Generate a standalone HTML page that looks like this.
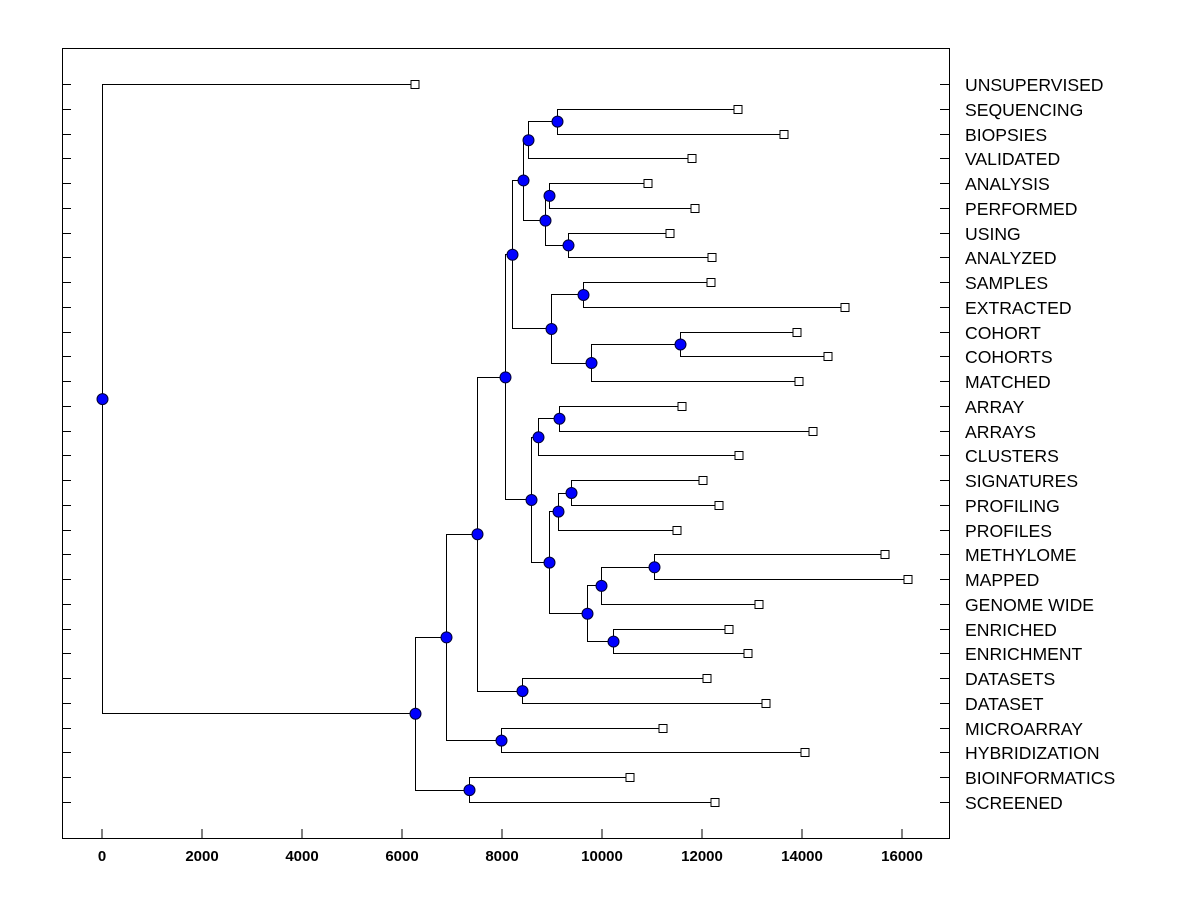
<!DOCTYPE html>
<html><head><meta charset="utf-8"><style>
html,body{margin:0;padding:0;background:#fff;}
svg{display:block;font-family:"Liberation Sans",Arial,sans-serif;}
</style></head><body>
<svg id="chart" width="1200" height="900">
<rect x="62.5" y="48.5" width="887" height="790" fill="none" stroke="#000"/>
</svg>
<script>
const leafNames = ["UNSUPERVISED","SEQUENCING","BIOPSIES","VALIDATED","ANALYSIS","PERFORMED","USING","ANALYZED","SAMPLES","EXTRACTED","COHORT","COHORTS","MATCHED","ARRAY","ARRAYS","CLUSTERS","SIGNATURES","PROFILING","PROFILES","METHYLOME","MAPPED","GENOME WIDE","ENRICHED","ENRICHMENT","DATASETS","DATASET","MICROARRAY","HYBRIDIZATION","BIOINFORMATICS","SCREENED"];
const leafValues = [6260,12720,13640,11800,10920,11860,11360,12200,12180,14860,13900,14520,13940,11600,14220,12740,12020,12340,11500,15660,16120,13140,12540,12920,12100,13280,11220,14060,10560,12260];
const mergeLeft  = ["L1","N0","L4","L6","N2","N1","L8","L10","N7","N6","N5","L13","N11","L16","N13","L19","N15","L22","N16","N14","N12","N10","L24","N21","L26","N23","L28","N25","L0"];
const mergeRight = ["L2","L3","L5","L7","N3","N4","L9","L11","L12","N8","N9","L14","L15","L17","L18","L20","L21","L23","N17","N18","N19","N20","L25","N22","L27","N24","L29","N26","N27"];
const mergeHeight = [9100,8520,8940,9320,8860,8420,9620,11560,9780,8980,8200,9140,8720,9380,9120,11040,9980,10220,9700,8940,8580,8060,8400,7500,7980,6880,7340,6260,0];
const xTicks = [0,2000,4000,6000,8000,10000,12000,14000,16000];

const svg = document.getElementById('chart');
const NS = 'http://www.w3.org/2000/svg';
const xs = v => 102 + v * 0.05;
const ys = i => 84 + i * (802 - 84) / 29;
function mk(tag, attrs){ const e = document.createElementNS(NS, tag); for (const k in attrs) e.setAttribute(k, attrs[k]); svg.appendChild(e); return e; }

xTicks.forEach(t => {
  const l = mk('line', {x1: xs(t), x2: xs(t), y1: 838, y2: 829, stroke: '#000'});
  
  
  const tx = mk('text', {x: xs(t), y: 861, 'font-size': 15, 'font-weight': 'bold', 'text-anchor': 'middle'});
  tx.textContent = t;
  
  
});
leafNames.forEach((n, i) => {
  const y = Math.round(ys(i)) + 0.5;
  const l1 = mk('line', {x1: 62, x2: 71, y1: y, y2: y, stroke: '#000'});
  
  
  const l2 = mk('line', {x1: 940, x2: 949, y1: y, y2: y, stroke: '#000'});
  
  
  const tx = mk('text', {x: 965, y: y + 6.5, 'font-size': 17.6});
  tx.textContent = n;
  
  
});

const nodePos = [];
function pos(ref){
  const i = parseInt(ref.slice(1));
  if (ref[0] === 'L') return {x: xs(leafValues[i]), y: ys(i)};
  return nodePos[i];
}
for (let i = 0; i < mergeHeight.length; i++) {
  const a = pos(mergeLeft[i]), b = pos(mergeRight[i]);
  nodePos[i] = {x: xs(mergeHeight[i]), y: (a.y + b.y) / 2};
}
for (let i = 0; i < mergeHeight.length; i++) {
  const a = pos(mergeLeft[i]), b = pos(mergeRight[i]), x = nodePos[i].x;
  const p = mk('path', {d: `M${a.x},${Math.round(a.y)+0.5}H${x+0.5}V${Math.round(b.y)+0.5}H${b.x}`, fill: 'none', stroke: '#000', 'stroke-width': 1});
  
  
}
leafValues.forEach((v, i) => {
  const r = mk('rect', {x: xs(v) - 4, y: Math.round(ys(i)) - 3.5, width: 8, height: 8, fill: '#fff', stroke: '#000'});
  
  
});
nodePos.forEach(p => {
  const c = mk('circle', {cx: p.x + 0.5, cy: p.y + 0.5, r: 5.5, fill: '#0000ff', stroke: '#000033'});
  
  
});
</script>
</body></html>
